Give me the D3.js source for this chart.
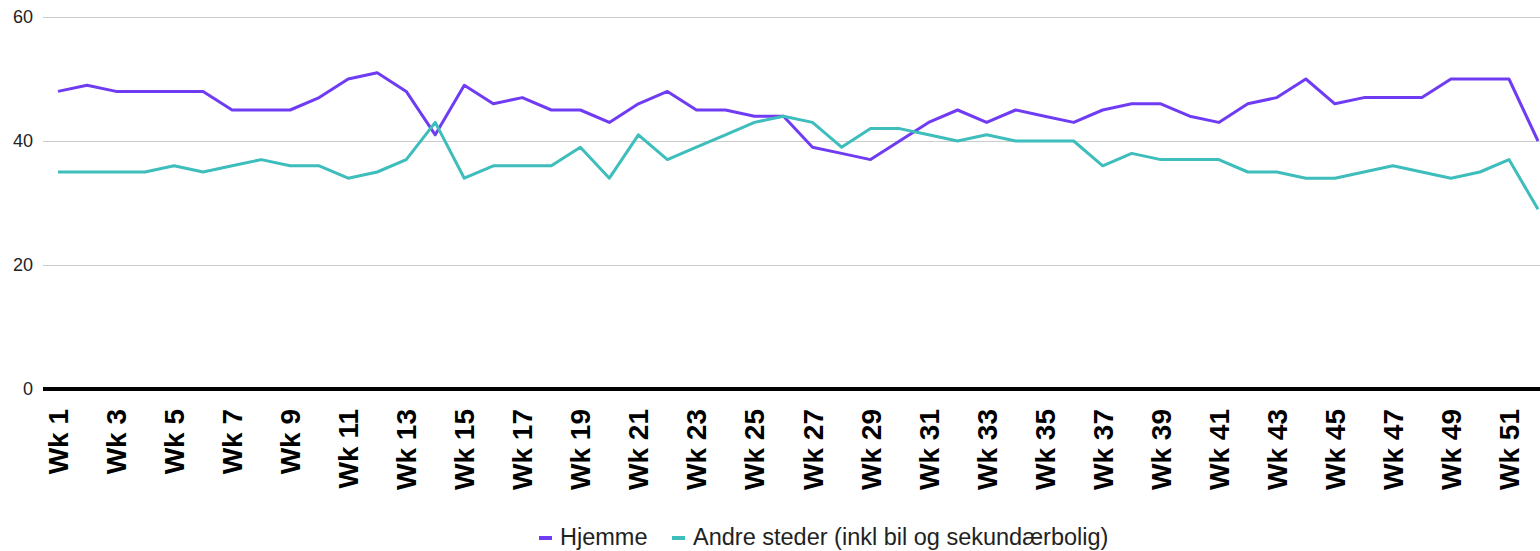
<!DOCTYPE html>
<html>
<head>
<meta charset="utf-8">
<script src="https://cdn.jsdelivr.net/npm/d3@7"></script>
<style>
  body { margin: 0; background: #fff; }
  svg { display: block; font-family: "Liberation Sans", Arial, sans-serif; }
</style>
</head>
<body>
<div id="chart"></div>
<script>
// weeks 1..52
const weeks = d3.range(1, 53).map(n => 'Wk ' + n)

const hjemme = [48, 49, 48, 48, 48, 48, 45, 45, 45, 47, 50, 51, 48, 41, 49, 46, 47, 45, 45, 43,
  46, 48, 45, 45, 44, 44, 39, 38, 37, 40, 43, 45, 43, 45, 44, 43, 45, 46, 46, 44,
  43, 46, 47, 50, 46, 47, 47, 47, 50, 50, 50, 40]

const andreSteder = [35, 35, 35, 35, 36, 35, 36, 37, 36, 36, 34, 35, 37, 43, 34, 36, 36, 36, 39, 34,
  41, 37, 39, 41, 43, 44, 43, 39, 42, 42, 41, 40, 41, 40, 40, 40, 36, 38, 37, 37,
  37, 35, 35, 34, 34, 35, 36, 35, 34, 35, 37, 29]

const seriesNames = ['Hjemme', 'Andre steder (inkl bil og sekundærbolig)']
const seriesColors = ['#6f3cf4', '#3dbdbb']
const yTicks = [0, 20, 40, 60]

const width = 1540, height = 551
const margin = {top: 17, right: 2, bottom: 162, left: 43}

const svg = d3.select('#chart').append('svg')
  .attr('width', width)
  .attr('height', height)

const x = d3.scalePoint()
  .domain(weeks)
  .range([58, width - margin.right])

const y = d3.scaleLinear()
  .domain([0, 60])
  .range([height - margin.bottom, margin.top])

// gridlines + y labels
const yAxis = svg.append('g')
  .attr('transform', 'translate(' + margin.left + ',0)')
  .call(d3.axisLeft(y).tickValues(yTicks).tickSize(-(width - margin.left)).tickPadding(10))
yAxis.select('.domain').remove()
yAxis.selectAll('.tick line').attr('stroke', '#cccccc')
yAxis.selectAll('.tick text')
  .attr('font-size', 18)
  .attr('fill', '#222')
  .attr('x', -10)

// lines
const line = d3.line()
  .x((d, i) => x(weeks[i]))
  .y(d => y(d))

;[hjemme, andreSteder].forEach((data, i) => {
  svg.append('path')
    .datum(data)
    .attr('fill', 'none')
    .attr('stroke', seriesColors[i])
    .attr('stroke-width', 3)
    .attr('stroke-linejoin', 'round')
    .attr('d', line)
})

// x axis baseline
svg.append('line')
  .attr('x1', margin.left)
  .attr('x2', width)
  .attr('y1', y(0))
  .attr('y2', y(0))
  .attr('stroke', '#000')
  .attr('stroke-width', 4)

// x labels, every other week
svg.append('g').selectAll('text')
  .data(weeks.filter((d, i) => i % 2 === 0))
  .enter().append('text')
    .text(d => d)
    .attr('transform', d => 'translate(' + (x(d) + 10) + ',' + (y(0) + 20) + ') rotate(-90)')
    .attr('text-anchor', 'end')
    .attr('font-size', 28)
    .attr('font-weight', 'bold')
    .attr('fill', '#000')

// legend
const legend = svg.append('g').attr('transform', 'translate(0,538)')
const legendX = [539, 672]
seriesNames.forEach((name, i) => {
  legend.append('line')
    .attr('x1', legendX[i]).attr('x2', legendX[i] + 13)
    .attr('y1', 0).attr('y2', 0)
    .attr('stroke', seriesColors[i])
    .attr('stroke-width', 4)
  legend.append('text')
    .attr('x', legendX[i] + 21)
    .attr('y', 7)
    .attr('font-size', 23.5)
    .attr('fill', '#222')
    .text(name)
})
</script>
</body>
</html>
